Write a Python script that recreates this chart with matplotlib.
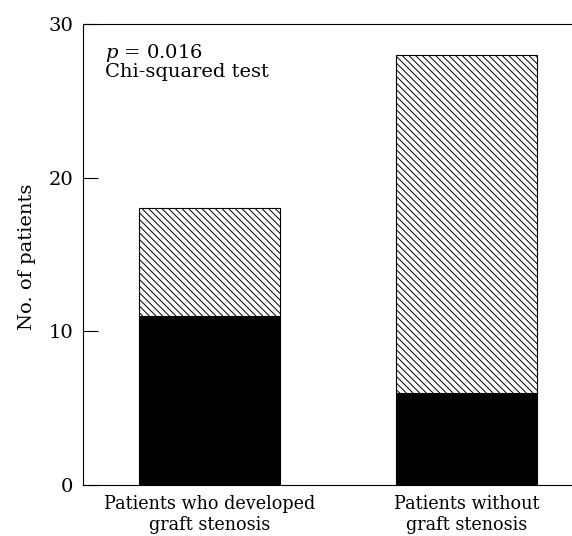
import matplotlib.pyplot as plt

groups = ["Patients who developed\ngraft stenosis", "Patients without\ngraft stenosis"]
solid = [11, 6]
hatched = [7, 22]
yticks = [0, 10, 20, 30]

plt.rcParams['font.family'] = ['DejaVu Serif']
plt.rcParams['mathtext.fontset'] = 'dejavuserif'
plt.rcParams['hatch.linewidth'] = 0.7

fig = plt.figure(figsize=(5.72, 5.36), dpi=100)
ax = fig.add_axes([83 / 572, (536 - 485) / 536, 1 - 83 / 572 + 0.01, (485 - 24) / 536])

x = range(len(groups))
ax.bar(x, solid, width=0.551, color='black', edgecolor='black', linewidth=0.8)
ax.bar(x, hatched, width=0.551, bottom=solid, color='white', edgecolor='black',
       hatch='\\\\\\\\\\', linewidth=0.8)

ax.set_xlim(-0.492, 1.433)
ax.set_ylim(0, 30)
ax.set_yticks(yticks)
ax.set_xticks(list(x))
ax.set_xticklabels(groups, fontsize=12.7, linespacing=1.2)
ax.tick_params(axis='x', length=0, pad=7)
ax.tick_params(axis='y', direction='in', length=11, width=0.8, labelsize=14, pad=7)
ax.set_ylabel("No. of patients", fontsize=14)
ax.yaxis.set_label_coords(-0.096, 0.495)
for s in ax.spines.values():
    s.set_linewidth(0.8)
ax.spines['right'].set_visible(False)

ax.text(0.045, 0.96, "$p$ = 0.016\nChi-squared test", transform=ax.transAxes,
        fontsize=14, va='top', ha='left', linespacing=0.9)

fig.savefig("out.png", dpi=100)
